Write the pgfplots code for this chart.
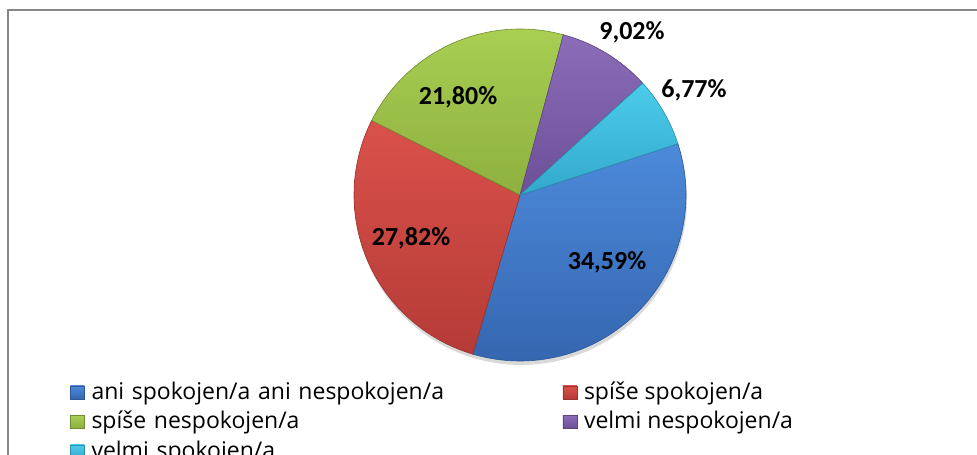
\documentclass[border=0pt]{standalone}
\usepackage{pgfplots}
\usepackage{pgfplotstable}
\pgfplotsset{compat=1.18}
\usepackage{fontspec}
\setmainfont{Open Sans}
\newfontfamily\labelfont{Carlito}

\definecolor{blueT}{HTML}{4C8ADA}\definecolor{blueB}{HTML}{3566B0}
\definecolor{redT}{HTML}{DA514B}\definecolor{redB}{HTML}{B53B36}
\definecolor{greenT}{HTML}{A8CE52}\definecolor{greenB}{HTML}{8DB03F}
\definecolor{purpleT}{HTML}{8A6CB8}\definecolor{purpleB}{HTML}{6E4F99}
\definecolor{cyanT}{HTML}{4BCBEA}\definecolor{cyanB}{HTML}{33A9CC}
\definecolor{frame}{HTML}{878787}

% shares in percent, clockwise from the first slice
\pgfplotstableread{
value
34.59
27.82
21.80
9.02
6.77
}\piedata

\begin{document}
\begin{tikzpicture}
\useasboundingbox (0,0) rectangle (977bp,455bp);
\clip (0,0) rectangle (977bp,455bp);
\pgfplotstablegetelem{0}{value}\of\piedata \let\vA\pgfplotsretval
\pgfplotstablegetelem{1}{value}\of\piedata \let\vB\pgfplotsretval
\pgfplotstablegetelem{2}{value}\of\piedata \let\vC\pgfplotsretval
\pgfplotstablegetelem{3}{value}\of\piedata \let\vD\pgfplotsretval
\pgfplotstablegetelem{4}{value}\of\piedata \let\vE\pgfplotsretval
\pgfmathsetmacro\aA{18}
\pgfmathsetmacro\aB{\aA-3.6*\vA}
\pgfmathsetmacro\aC{\aB-3.6*\vB}
\pgfmathsetmacro\aD{\aC-3.6*\vC}
\pgfmathsetmacro\aE{\aD-3.6*\vD}
\pgfmathsetmacro\aF{\aE-3.6*\vE}
\def\cx{520}\def\cy{260}\def\r{166}
\begin{axis}[
    width=977bp, height=455bp, scale only axis,
    xmin=0, xmax=977, ymin=0, ymax=455,
    hide axis, clip=false, samples=120,
    legend columns=2,
    legend image code/.code={\draw[#1, line width=0.5bp] (0bp,0bp) rectangle (14bp,13bp);},
    legend style={at={(axis cs:70,76)}, anchor=north west,
      draw=none, fill=none, inner sep=0pt, outer sep=0pt,
      row sep=0pt, column sep=0pt,
      font=\fontsize{23bp}{23bp}\selectfont,
      nodes={inner sep=0pt, outer sep=0pt, anchor=base west,
        text height=20bp, text depth=9.5bp},
      /tikz/column 1/.style={column sep=7bp},
      /tikz/column 3/.style={column sep=7bp},
      /tikz/column 2/.style={nodes={text width=471bp}}},
  ]
  % frame of the chart area
  \draw[frame, line width=1.7bp] (axis cs:7.8,-20) -- (axis cs:7.8,445.2) -- (axis cs:1000,445.2);
  % soft shadow
  \addplot[forget plot, draw=none, fill=black, opacity=0.15, domain=0:360]
    ({\cx+1+\r*cos(x)},{\cy-4+\r*sin(x)}) -- cycle;

  \addplot[top color=blueT, bottom color=blueB, draw=blueB!85!black, line width=0.6bp, domain=\aB:\aA]
    ({\cx+\r*cos(x)},{\cy+\r*sin(x)}) -- (axis cs:\cx,\cy) -- cycle;
  \addlegendentry{ani spokojen/a ani nespokojen/a}
  \addplot[top color=redT, bottom color=redB, draw=redB!85!black, line width=0.6bp, domain=\aC:\aB]
    ({\cx+\r*cos(x)},{\cy+\r*sin(x)}) -- (axis cs:\cx,\cy) -- cycle;
  \addlegendentry{spíše spokojen/a}
  \addplot[top color=greenT, bottom color=greenB, draw=greenB!80!black, line width=0.6bp, domain=\aD:\aC]
    ({\cx+\r*cos(x)},{\cy+\r*sin(x)}) -- (axis cs:\cx,\cy) -- cycle;
  \addlegendentry{spíše nespokojen/a}
  \addplot[top color=purpleT, bottom color=purpleB, draw=purpleB!85!black, line width=0.6bp, domain=\aE:\aD]
    ({\cx+\r*cos(x)},{\cy+\r*sin(x)}) -- (axis cs:\cx,\cy) -- cycle;
  \addlegendentry{velmi nespokojen/a}
  \addplot[top color=cyanT, bottom color=cyanB, draw=cyanB!85!black, line width=0.6bp, domain=\aF:\aE]
    ({\cx+\r*cos(x)},{\cy+\r*sin(x)}) -- (axis cs:\cx,\cy) -- cycle;
  \addlegendentry{velmi spokojen/a}

  \begin{scope}[font=\labelfont\bfseries\fontsize{26bp}{30bp}\selectfont]
    \node at (axis cs:607,193) {34,59\%};
    \node at (axis cs:411,217) {27,82\%};
    \node at (axis cs:458,358) {21,80\%};
    \node at (axis cs:632,423) {9,02\%};
    \node at (axis cs:694,365) {6,77\%};
  \end{scope}
\end{axis}
\end{tikzpicture}
\end{document}
